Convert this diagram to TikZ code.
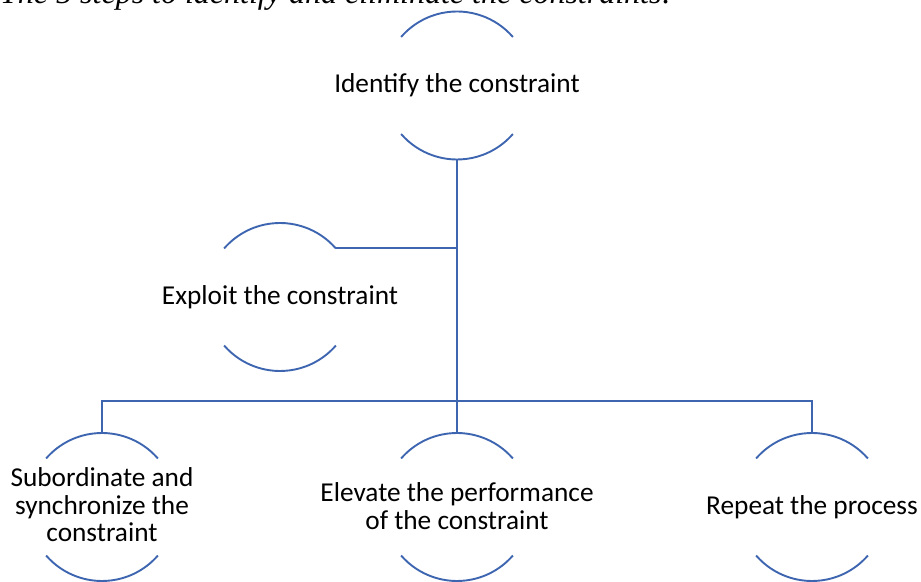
\documentclass[tikz,border=0pt]{standalone}
\usepackage{fontspec}
\setmainfont{Carlito}
\newfontfamily\capfont{Liberation Serif}
\definecolor{arcblue}{RGB}{62,102,176}
\begin{document}
\begin{tikzpicture}[x=1pt,y=1pt,
  circ/.style={circle,draw=none,minimum size=148pt,inner sep=0pt,outer sep=0pt},
  txt/.style={align=center,inner sep=0pt,font=\fontsize{27.3}{27.5}\selectfont},
  arcline/.style={draw=arcblue,line width=1.9pt},
  conn/.style={draw=arcblue,line width=1.9pt}]
\useasboundingbox (0,0) rectangle (921,581);
\clip (0,0) rectangle (921,581);
% caption (cut off at top, as in the reference)
\node[anchor=base west,inner sep=0pt,font=\capfont\itshape\fontsize{32}{34}\selectfont] (cap) at (0,577) {The 5 steps to identify and eliminate the constraints:};
% circles
\node[circ] (id) at (457,495.5) {};
\node[circ] (ex) at (280,284) {};
\node[circ] (sub) at (102,74) {};
\node[circ] (elev) at (457,74) {};
\node[circ] (rep) at (812,74) {};
\foreach \n in {id,ex,sub,elev,rep}{
  \draw[arcline] (\n.41) arc[start angle=41,end angle=139,radius=74pt];
  \draw[arcline] (\n.221) arc[start angle=221,end angle=319,radius=74pt];
}
% texts
\node[txt] (idt) at (id) {Identify the constraint};
\node[txt] (ext) at (ex) {Exploit the constraint};
\node[txt] (subt) at ([yshift=2pt]sub) {Subordinate and\\synchronize the\\constraint};
\node[txt] (elevt) at ([yshift=1pt]elev) {Elevate the performance\\of the constraint};
\node[txt] (rept) at (rep) {Repeat the process};
% connectors
\coordinate (hub) at (457,180);
\draw[conn] (id.south) -- (hub);
\draw[conn] (ex.41) -- (ex.41 -| id.south);
\draw[conn] (sub.north) -- (sub.north |- hub) -- (rep.north |- hub) -- (rep.north);
\draw[conn] (hub) -- (elev.north);
\end{tikzpicture}
\end{document}
